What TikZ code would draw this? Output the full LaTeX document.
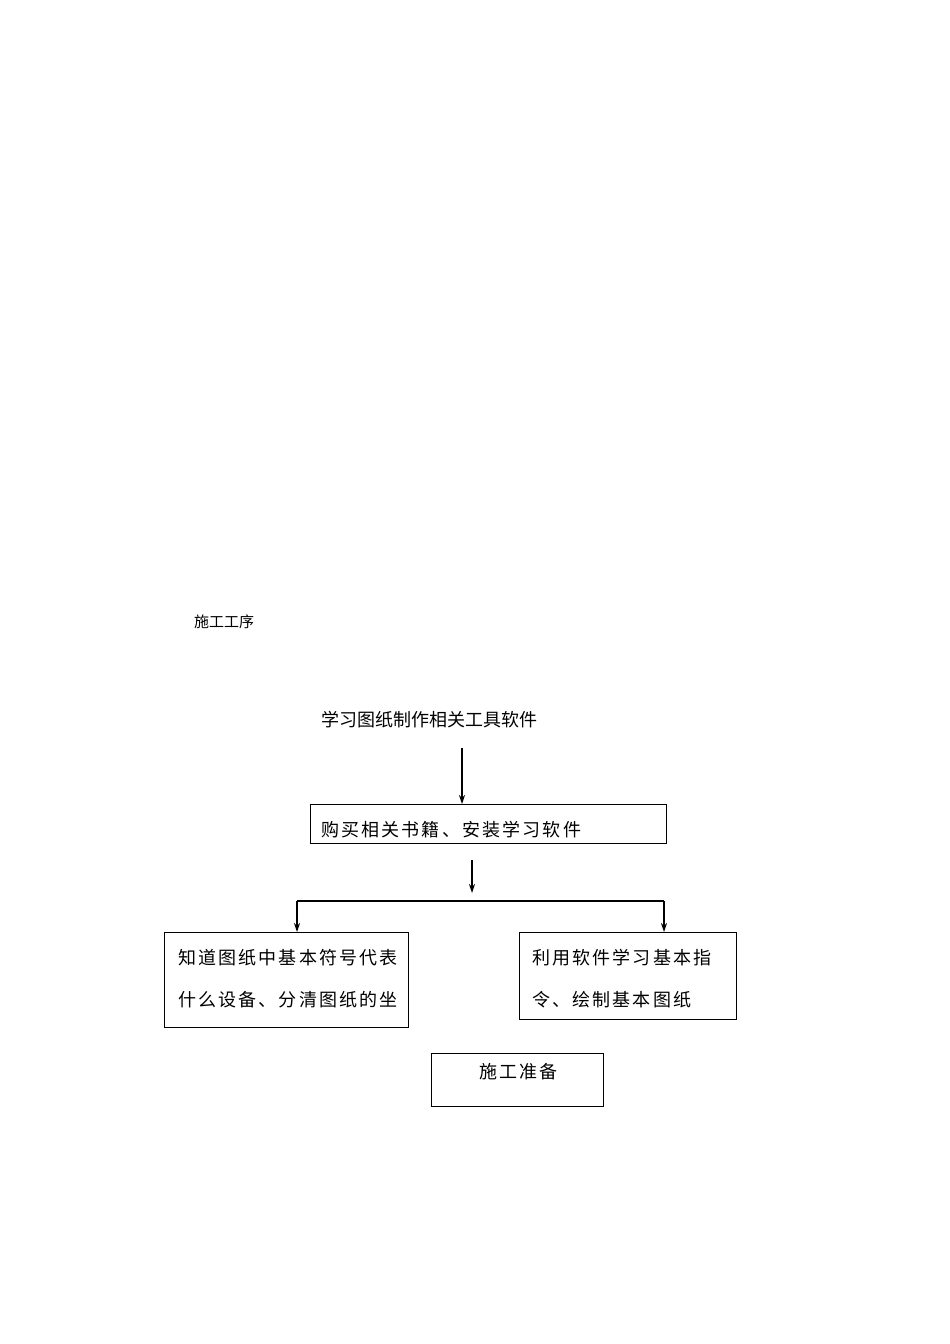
\documentclass[tikz,border=0pt]{standalone}
\usepackage{fontspec}
\newfontfamily\cjk{Noto Sans CJK SC}
\newfontfamily\cjkwide[LetterSpace=12]{Noto Sans CJK SC}
\usetikzlibrary{arrows.meta}
\begin{document}
\begin{tikzpicture}[x=1pt,y=-1pt,
  box/.style={draw,line width=1pt,inner sep=0pt,anchor=north west},
  lbl/.style={inner sep=0pt,anchor=west,font=\cjkwide\fontsize{18}{20}\selectfont},
  arr/.style={line width=1.3pt,-{Stealth[length=9pt,width=6pt]}}]
\useasboundingbox (0,0) rectangle (950,1344);
\node[inner sep=0pt,anchor=west,font=\cjk\fontsize{15}{17}\selectfont] (title) at (194,622) {施工工序};
\node[inner sep=0pt,anchor=west,font=\cjk\fontsize{18}{20}\selectfont] (top) at (321,720) {学习图纸制作相关工具软件};
\node[box,minimum width=356pt,minimum height=39pt] (b1) at (310,804) {};
\node[lbl] (t1) at (321,830) {购买相关书籍、安装学习软件};
\node[box,minimum width=244pt,minimum height=95pt] (bl) at (164,932) {};
\node[lbl] (tl1) at (178,958) {知道图纸中基本符号代表};
\node[lbl] (tl2) at (178,1000) {什么设备、分清图纸的坐};
\node[box,minimum width=217pt,minimum height=87pt] (br) at (519,932) {};
\node[lbl] (tr1) at (532,958) {利用软件学习基本指};
\node[lbl] (tr2) at (532,1000) {令、绘制基本图纸};
\node[box,minimum width=172pt,minimum height=53pt] (bb) at (431,1053) {};
\node[lbl] (tb) at (479,1072) {施工准备};
\coordinate (a1) at (462,748);
\coordinate (a2) at (472,860);
\coordinate (a3) at (472,893);
\coordinate (hl) at (297,901);
\coordinate (hr) at (664,901);
\draw[arr] (a1) -- (a1 |- b1.north);
\draw[arr] (a2) -- (a3);
\draw[line width=1.3pt] (hl) -- (hr);
\draw[arr] (hl) -- (hl |- bl.north);
\draw[arr] (hr) -- (hr |- br.north);
\end{tikzpicture}
\end{document}
